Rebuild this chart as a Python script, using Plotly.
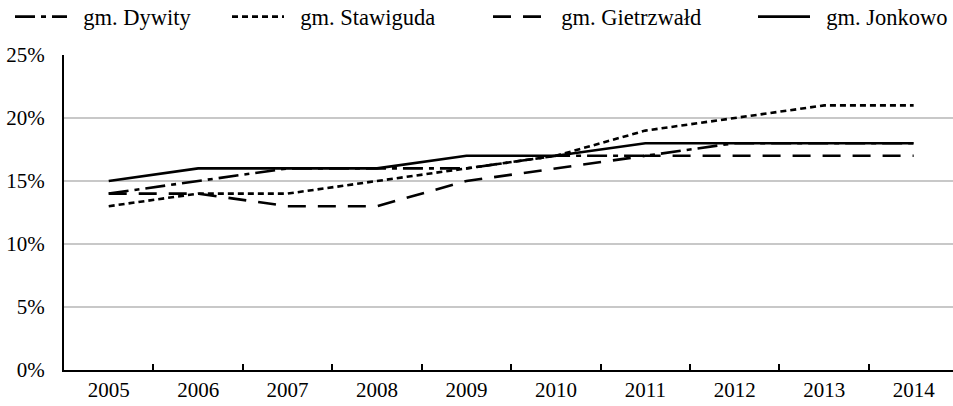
import plotly.graph_objects as go

years = ["2005", "2006", "2007", "2008", "2009", "2010", "2011", "2012", "2013", "2014"]
dywity = [14, 15, 16, 16, 16, 17, 17, 18, 18, 18]
stawiguda = [13, 14, 14, 15, 16, 17, 19, 20, 21, 21]
gietrzwald = [14, 14, 13, 13, 15, 16, 17, 17, 17, 17]
jonkowo = [15, 16, 16, 16, 17, 17, 18, 18, 18, 18]
y_ticks = [0, 5, 10, 15, 20, 25]
y_labels = ["0%", "5%", "10%", "15%", "20%", "25%"]

FONT = "Liberation Serif, Times New Roman, serif"
PAD = "\u00a0\u00a0"

series = [
    ("gm. Dywity", dywity, "20px,6px,5px,6px", "legend", 14),
    ("gm. Stawiguda", stawiguda, "6px,4px", "legend2", 231),
    ("gm. Gietrzwałd", gietrzwald, "18px,12px", "legend3", 492),
    ("gm. Jonkowo", jonkowo, "solid", "legend4", 757),
]

fig = go.Figure()
legends = {}
for name, vals, dash, lg, px in series:
    fig.add_trace(go.Scatter(
        x=years, y=vals, name=PAD + name, mode="lines", legend=lg,
        line=dict(color="black", width=2.6, dash=dash),
    ))
    legends[lg] = dict(
        orientation="h", xref="container", yref="container",
        x=(px - 4) / 953, xanchor="left", y=1 - 17 / 406, yanchor="middle",
        itemwidth=52, borderwidth=0, bgcolor="rgba(0,0,0,0)",
        font=dict(family=FONT, size=22.5, color="black"),
    )

fig.update_layout(
    width=953, height=406,
    margin=dict(l=64, r=0, t=55, b=36, autoexpand=False),
    plot_bgcolor="white", paper_bgcolor="white",
    font=dict(family=FONT, size=21, color="black"),
    showlegend=True,
    xaxis=dict(type="category", range=[-0.5, 9.44], showgrid=False,
               showline=True, linecolor="black", linewidth=2,
               ticks="inside", ticklen=6, tickcolor="black", tickwidth=1.5,
               tickson="boundaries", zeroline=False),
    yaxis=dict(range=[0, 25], tickvals=y_ticks, ticktext=y_labels,
               showgrid=True, gridcolor="#c8c8c8", gridwidth=1.5,
               showline=True, linecolor="black", linewidth=2,
               ticks="", zeroline=False, ticklabelstandoff=13),
    **legends,
)

fig.write_html("out.html", config={"displayModeBar": False},
               post_script="document.body.style.margin='0px';document.body.style.overflow='hidden';")
